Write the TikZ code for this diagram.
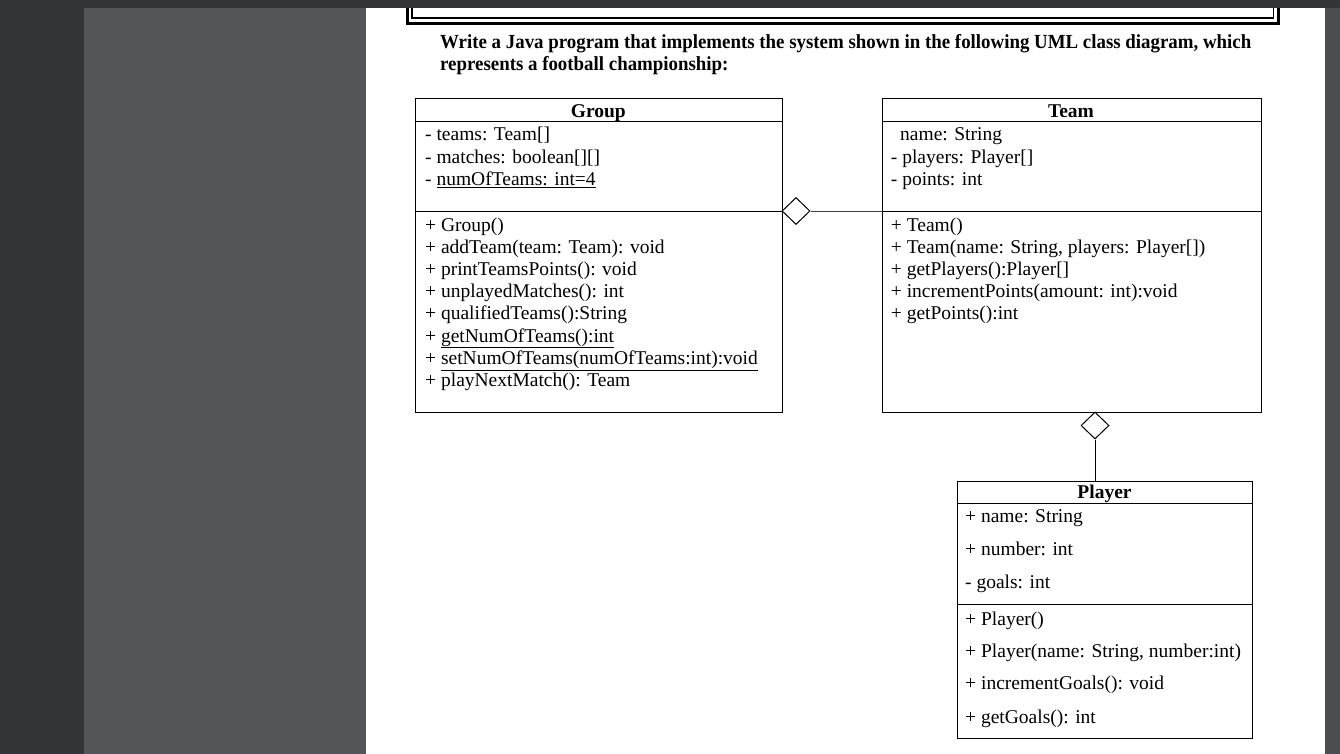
\documentclass[tikz,border=0pt]{standalone}
\usepackage{fontspec}
\setmainfont{Liberation Serif}
\newfontfamily\tasktitlefont[FakeStretch=0.944]{Liberation Serif}
\usetikzlibrary{shapes.geometric}
\definecolor{viewerbar}{RGB}{50,54,57}
\definecolor{viewerpane}{RGB}{82,86,89}
\definecolor{viewerscroll}{RGB}{74,78,81}

\begin{document}
\begin{tikzpicture}[x=1pt, y=-1pt,
    classbox/.style={draw, line width=1pt, inner sep=0pt, anchor=north west},
    member/.style={anchor=base west, inner sep=0pt, font=\fontsize{19.5}{22}\selectfont},
    classname/.style={anchor=base, inner sep=0pt, font=\fontsize{19.5}{22}\selectfont\bfseries},
    titletext/.style={anchor=base west, inner sep=0pt, font=\fontsize{20}{22}\tasktitlefont\bfseries},
    aggr/.style={draw, diamond, fill=white, line width=1pt, minimum width=28pt, minimum height=27pt, inner sep=0pt}]
    \useasboundingbox (0,0) rectangle (1340,754);

    % Viewer background
    \fill[viewerbar] (0,0) rectangle (1340,754);
    \fill[viewerpane] (84,0) rectangle (366,754);
    \fill[viewerscroll] (1325,0) rectangle (1340,754);
    \fill[white] (366,0) rectangle (1325,754);

    % Header frame (cut by the toolbar)
    \draw[line width=3pt] (407.5,-5) -- (407.5,23.5) -- (1278.5,23.5) -- (1278.5,-5);
    \draw[line width=1.5pt] (412,-5) -- (412,18) -- (1273.5,18) -- (1273.5,-5);
    \fill[viewerbar] (0,0) rectangle (1340,8);

    % Task
    \node[titletext] (title1) at (440,49) {Write a Java program that implements the system shown in the following UML class diagram, which};
    \node[titletext] (title2) at (440,70.5) {represents a football championship:};

    % Group
    \node[classbox, minimum width=366.7pt, minimum height=314pt] (group) at (415,98) {};
    \draw ([yshift=-23.4pt]group.north west) -- ([yshift=-23.4pt]group.north east);
    \draw ([yshift=-113pt]group.north west) -- ([yshift=-113pt]group.north east);
    \node[classname] (groupname) at (598.3,117.5) {Group};
    \node[member] (g1) at (425,141) {- teams: Team[]};
    \node[member] (g2) at (425,163.2) {- matches: boolean[][]};
    \node[member] (g3) at (425,185.4) {- \underline{numOfTeams: int=4}};
    \node[member] (g4) at (425,231) {+ Group()};
    \node[member] (g5) at (425,253.2) {+ addTeam(team: Team): void};
    \node[member] (g6) at (425,275.4) {+ printTeamsPoints(): void};
    \node[member] (g7) at (425,297.6) {+ unplayedMatches(): int};
    \node[member] (g8) at (425,319.8) {+ qualifiedTeams():String};
    \node[member] (g9) at (425,342) {+ \underline{getNumOfTeams():int}};
    \node[member] (g10) at (425,364.2) {+ \underline{setNumOfTeams(numOfTeams:int):void}};
    \node[member] (g11) at (425,386.4) {+ playNextMatch(): Team};

    % Team
    \node[classbox, minimum width=379pt, minimum height=313.5pt] (team) at (881.7,98) {};
    \draw ([yshift=-23.4pt]team.north west) -- ([yshift=-23.4pt]team.north east);
    \draw ([yshift=-113pt]team.north west) -- ([yshift=-113pt]team.north east);
    \node[classname] (teamname) at (1071,117.5) {Team};
    \node[member] (t1) at (900,141) {name: String};
    \node[member] (t2) at (890.7,163.2) {- players: Player[]};
    \node[member] (t3) at (890.7,185.4) {- points: int};
    \node[member] (t4) at (890.7,231) {+ Team()};
    \node[member] (t5) at (890.7,253.2) {+ Team(name: String, players: Player[])};
    \node[member] (t6) at (890.7,275.4) {+ getPlayers():Player[]};
    \node[member] (t7) at (890.7,297.6) {+ incrementPoints(amount: int):void};
    \node[member] (t8) at (890.7,319.8) {+ getPoints():int};

    % Player
    \node[classbox, minimum width=295.6pt, minimum height=257.6pt] (player) at (956.7,480.7) {};
    \draw ([yshift=-22.6pt]player.north west) -- ([yshift=-22.6pt]player.north east);
    \draw ([yshift=-123.6pt]player.north west) -- ([yshift=-123.6pt]player.north east);
    \node[classname] (playername) at (1104.5,498.5) {Player};
    \node[member] (p1) at (965,522.2) {+ name: String};
    \node[member] (p2) at (965,555.5) {+ number: int};
    \node[member] (p3) at (965,588.8) {- goals: int};
    \node[member] (p4) at (965,625.5) {+ Player()};
    \node[member] (p5) at (965,657.5) {+ Player(name: String, number:int)};
    \node[member] (p6) at (965,689.8) {+ incrementGoals(): void};
    \node[member] (p7) at (965,723.2) {+ getGoals(): int};

    % Aggregations
    \node[aggr] (groupteams) at (796,211) {};
    \draw[line width=1pt, black!75] (groupteams.east) -- (groupteams.east -| team.west);
    \node[aggr] (teamplayers) at (1095,425.5) {};
    \draw[line width=1pt] (teamplayers.south) -- (teamplayers.south |- player.north);

\end{tikzpicture}
\end{document}
